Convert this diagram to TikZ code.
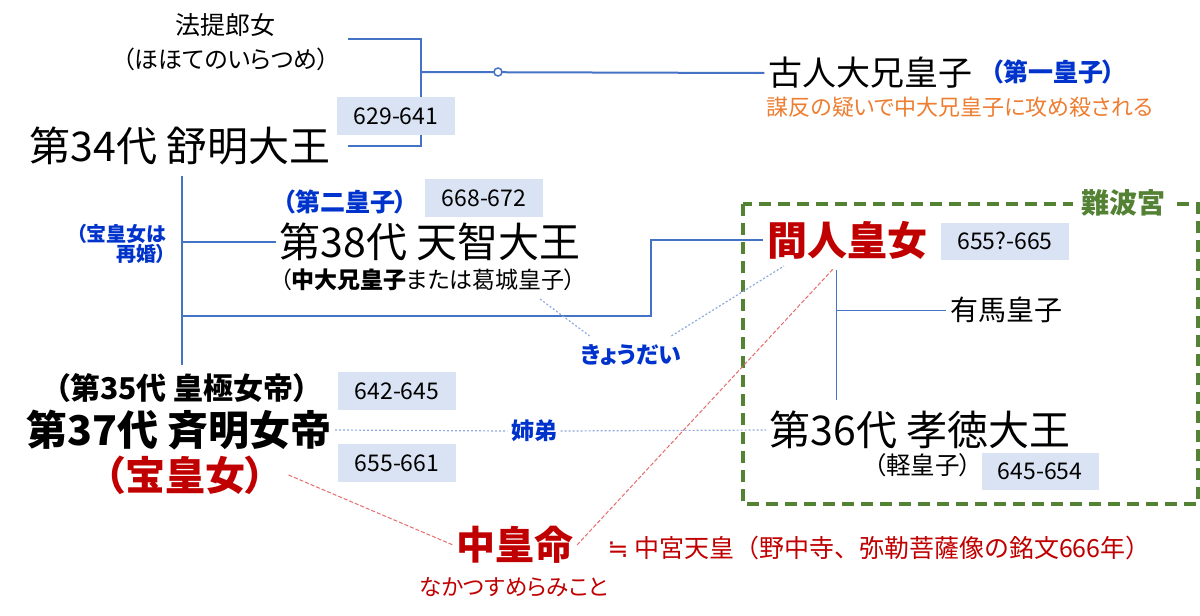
\documentclass[tikz,border=0pt]{standalone}
\usepackage{fontspec}
\setmainfont{Noto Sans CJK JP}[RawFeature=+palt]
\newfontfamily\fullfont{Noto Sans CJK JP}
\newfontfamily\symfont{DejaVu Sans}
\definecolor{famblue}{HTML}{4472C4}
\definecolor{jblue}{HTML}{0033CC}
\definecolor{jred}{HTML}{C00000}
\definecolor{jorange}{HTML}{ED7D31}
\definecolor{jgreen}{HTML}{548235}
\definecolor{yrfill}{HTML}{DAE3F3}
\definecolor{relblue}{HTML}{8FAADC}
\definecolor{relred}{HTML}{E46C6C}
\newcommand{\jfs}[1]{\fontsize{#1}{#1}\selectfont}
\tikzset{
  tenno/.style={font={\jfs{41}}},
  tennob/.style={font={\jfs{41}\bfseries}},
  bluenote/.style={font={\jfs{25}\bfseries},text=jblue},
  yr/.style={fill=yrfill,minimum width=118pt,minimum height=38pt,inner xsep=10pt,font={\jfs{23}}},
  famline/.style={draw=famblue,line width=2pt},
  arimaline/.style={draw=famblue,line width=1pt},
  sibline/.style={draw=relblue,line width=1.2pt,dash pattern=on 2pt off 2pt},
  redline/.style={draw=relred,line width=1pt,dash pattern=on 4pt off 2pt},
  naniwabox/.style={draw=jgreen,line width=3.5pt,dash pattern=on 12pt off 7pt}
}
\begin{document}
\begin{tikzpicture}[x=1pt,y=-1pt]
  \useasboundingbox (0,0) rectangle (1200,616);
  \draw
    (225,25) node[font={\jfs{25}}] (hohote) {法提郎女}
    (226,59) node[font={\jfs{24}}] (hohoteyomi) {（ほほてのいらつめ）}
    (870,73) node[font={\jfs{34}}] (furu) {古人大兄皇子}
    (1053,72) node[bluenote] (furuno) {（第一皇子）}
    (960,107) node[font={\jfs{22}},text=jorange] (muhon) {謀反の疑いで中大兄皇子に攻め殺される}
    (180,146) node[tenno] (jomei) {第34代 舒明大王}
    (345,202) node[bluenote] (tenjino) {（第二皇子）}
    (430,242) node[tenno] (tenji) {第38代 天智大王}
    (428,280) node[font={\jfs{23}}] (tenjiyomi) {（\textbf{中大兄皇子}または葛城皇子）}
    (170,244) node[anchor=east,align=right,font={\jfs{20}\bfseries},text=jblue] (saikon) {（宝皇女は\\再婚）}
    (182,388) node[font={\jfs{30}\bfseries}] (kogyoku) {（第35代 皇極女帝）}
    (179,430) node[tennob] (saimei) {第37代 斉明女帝}
    (185,475) node[font={\jfs{40}\bfseries},text=jred] (takara) {（宝皇女）}
    (534,431) node[font={\jfs{23}\bfseries},text=jblue] (shitei) {姉弟}
    (631,355) node[font={\jfs{23}\bfseries},text=jblue] (kyodai) {きょうだい}
    (847,240) node[font={\jfs{40}\bfseries},text=jred] (mamahito) {間人皇女}
    (1006,310) node[font={\jfs{28}}] (arima) {有馬皇子}
    (920,430) node[tenno] (kotoku) {第36代 孝徳大王}
    (923,465) node[font={\jfs{24.5}}] (karu) {（軽皇子）}
    (515,545) node[font={\jfs{39}\bfseries},text=jred] (nakatsu) {中皇命}
    (514,587) node[font={\jfs{22.5}},text=jred] (nakatsuyomi) {なかつすめらみこと}
    (604,548) node[anchor=west,font={\fullfont\jfs{25}},text=jred] (chugu) {{\symfont ≒} 中宮天皇（野中寺、弥勒菩薩像の銘文666年）};
  \draw[naniwabox] (743,204) rectangle (1198,504);
  \node[fill=white,inner xsep=8pt,font={\jfs{28}\bfseries},text=jgreen] (naniwa) at (1123,203) {難波宮};
  \coordinate (top) at (348,39);
  \coordinate (mid) at (421,72);
  \coordinate (bot) at (348,146);
  \coordinate (trunk1) at (182,176);
  \coordinate (trunk2) at (182,365);
  \coordinate (k1) at (182,316);
  \coordinate (k2) at (651,316);
  \coordinate (a1) at (836,270);
  \coordinate (a2) at (836,400);
  \coordinate (ky1) at (540,299);
  \coordinate (ky2) at (784,266);
  \coordinate (rd) at (834,268);
  \begin{scope}[famline]
    \draw (top) -| (mid) |- (bot);
    \draw (mid) -- (furu.west);
    \draw (trunk1) -- (trunk2);
    \draw (trunk1 |- tenji.west) -- (tenji.west);
    \draw (k1) -- (k2) |- (mamahito.west);
  \end{scope}
  \node[circle,draw=famblue,fill=white,line width=1.5pt,inner sep=0pt,minimum size=8pt] (knot) at (498,72) {};
  \draw[arimaline] (a1) -- (a2);
  \draw[arimaline] (a1 |- arima.west) -- (arima.west);
  \begin{scope}[sibline]
    \draw (saimei.east) -- (shitei.west);
    \draw (shitei.east) -- (kotoku.west);
    \draw (ky1) -- ([xshift=12pt,yshift=5pt]kyodai.north west);
    \draw ([xshift=-13pt,yshift=5pt]kyodai.north east) -- (ky2);
  \end{scope}
  \begin{scope}[redline]
    \draw ([xshift=20pt]takara.east) -- (nakatsu.west);
    \draw (nakatsu.east) -- (rd);
  \end{scope}
  \node[yr] (y629) at (396,116) {629-641};
  \node[yr] (y668) at (484,198) {668-672};
  \node[yr,minimum width=128pt,minimum height=37pt] (y655q) at (1005,241) {655?-665};
  \node[yr,minimum width=117pt,minimum height=37pt] (y645) at (1040,471) {645-654};
  \node[yr] (y642) at (397,391) {642-645};
  \node[yr] (y655) at (397,463) {655-661};
\end{tikzpicture}
\end{document}
